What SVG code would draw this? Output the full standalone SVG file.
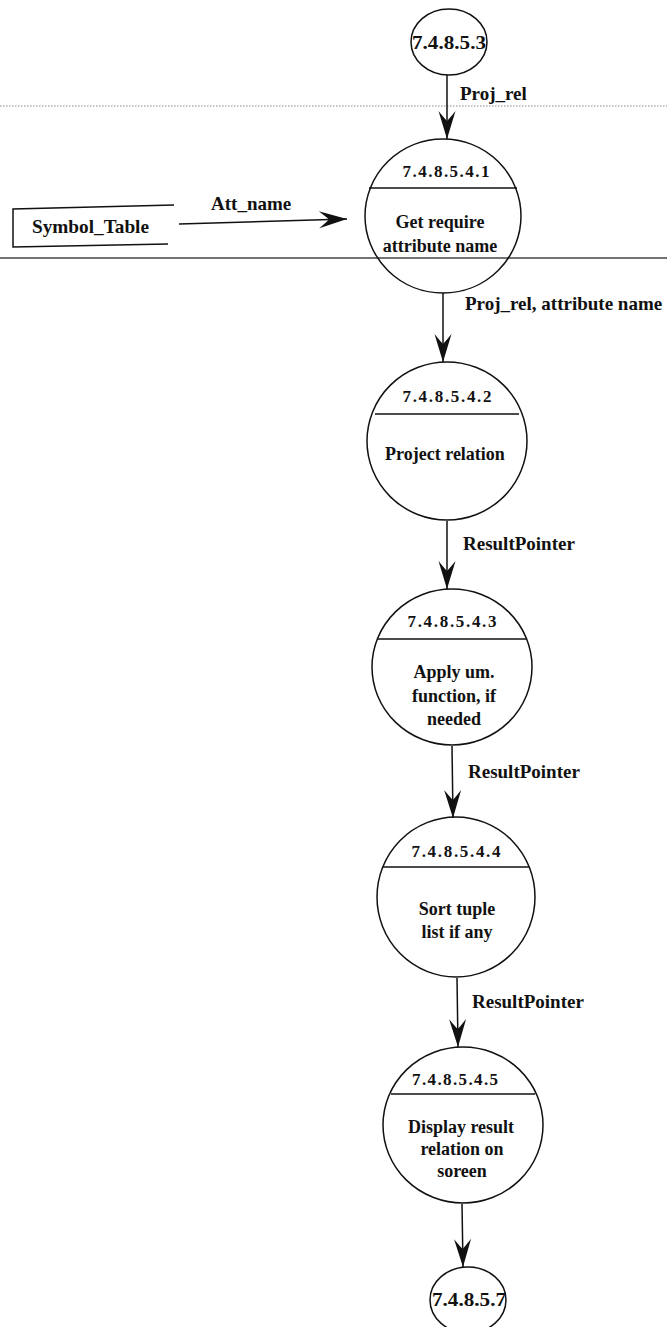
<svg xmlns="http://www.w3.org/2000/svg" width="667" height="1327" viewBox="0 0 667 1327">
  <style>
    .bubble { fill: none; stroke: #111; stroke-width: 1.5; }
    .divider { stroke: #111; stroke-width: 1.5; }
    .flow { fill: none; stroke: #111; stroke-width: 1.5; }
    .title { font-family: "Liberation Serif", "Times New Roman", serif; font-weight: bold; font-size: 17px; fill: #111; text-anchor: middle; }
    .body { font-family: "Liberation Serif", "Times New Roman", serif; font-weight: bold; font-size: 18px; fill: #111; text-anchor: middle; }
    .lbl { font-family: "Liberation Serif", "Times New Roman", serif; font-weight: bold; font-size: 19px; fill: #111; }
    .ref { font-family: "Liberation Serif", "Times New Roman", serif; font-weight: bold; font-size: 19px; fill: #111; text-anchor: middle; }
  </style>
  <defs>
    <marker id="head" markerUnits="userSpaceOnUse" markerWidth="32" markerHeight="20" viewBox="-30 -10 32 20" refX="0" refY="0" orient="auto">
      <path d="M0,0 L-28,-8.5 Q-20,-2 -18,0 Q-20,2 -28,8.5 Z" fill="#111"/>
    </marker>
  </defs>

  <rect width="667" height="1327" fill="#fff"/>

  <!-- page boundaries -->
  <g id="boundaries">
    <line x1="0" y1="106" x2="667" y2="106" stroke="#888" stroke-width="1" stroke-dasharray="1.5 1.5"/>
    <line x1="0" y1="258" x2="667" y2="258" stroke="#444" stroke-width="1.5"/>
  </g>

  <!-- off-page reference in -->
  <g id="ref-7.4.8.5.3">
    <ellipse class="bubble" cx="449" cy="42" rx="38" ry="33"/>
    <text class="ref" x="449" y="49" textLength="74" lengthAdjust="spacingAndGlyphs">7.4.8.5.3</text>
  </g>

  <!-- data store -->
  <g id="symbol-table">
    <path class="bubble" d="M174,205 L13,209 L13,247 L168,244"/>
    <text class="lbl" x="32" y="233" font-size="18" textLength="117" lengthAdjust="spacingAndGlyphs">Symbol_Table</text>
  </g>

  <g id="p-7.4.8.5.4.1">
    <ellipse class="bubble" cx="443" cy="216" rx="78" ry="77"/>
    <line class="divider" x1="369" y1="188" x2="517" y2="188"/>
    <text class="title" x="446" y="177" textLength="87" lengthAdjust="spacing">7.4.8.5.4.1</text>
    <text class="body" x="440" y="228">Get require</text>
    <text class="body" x="440" y="252">attribute name</text>
  </g>

  <g id="p-7.4.8.5.4.2">
    <ellipse class="bubble" cx="447" cy="441" rx="80" ry="79"/>
    <line class="divider" x1="375" y1="414" x2="519" y2="414"/>
    <text class="title" x="447" y="402" textLength="89" lengthAdjust="spacing">7.4.8.5.4.2</text>
    <text class="body" x="445" y="460">Project relation</text>
  </g>

  <g id="p-7.4.8.5.4.3">
    <ellipse class="bubble" cx="452" cy="667" rx="80" ry="78"/>
    <line class="divider" x1="378" y1="639" x2="526" y2="639"/>
    <text class="title" x="452" y="627" textLength="89" lengthAdjust="spacing">7.4.8.5.4.3</text>
    <text class="body" x="454" y="678">Apply um.</text>
    <text class="body" x="454" y="702">function, if</text>
    <text class="body" x="454" y="725">needed</text>
  </g>

  <g id="p-7.4.8.5.4.4">
    <ellipse class="bubble" cx="456" cy="897" rx="79" ry="80"/>
    <line class="divider" x1="383" y1="867" x2="529" y2="867"/>
    <text class="title" x="456" y="857" textLength="89" lengthAdjust="spacing">7.4.8.5.4.4</text>
    <text class="body" x="457" y="915">Sort tuple</text>
    <text class="body" x="457" y="938">list if any</text>
  </g>

  <g id="p-7.4.8.5.4.5">
    <ellipse class="bubble" cx="463" cy="1125" rx="80" ry="78"/>
    <line class="divider" x1="391" y1="1094" x2="535" y2="1094"/>
    <text class="title" x="455" y="1085" textLength="86" lengthAdjust="spacing">7.4.8.5.4.5</text>
    <text class="body" x="461" y="1133">Display result</text>
    <text class="body" x="462" y="1155">relation on</text>
    <text class="body" x="462" y="1177">soreen</text>
  </g>

  <!-- off-page reference out -->
  <g id="ref-7.4.8.5.7">
    <ellipse class="bubble" cx="468" cy="1300" rx="38" ry="33"/>
    <text class="ref" x="469" y="1306" textLength="74" lengthAdjust="spacingAndGlyphs">7.4.8.5.7</text>
  </g>

  <g id="connectors">
    <path class="flow" d="M447,75 L447,139" marker-end="url(#head)"/>
    <text class="lbl" x="460" y="100" font-size="18">Proj_rel</text>

    <path class="flow" d="M179,224 L347,219" marker-end="url(#head)"/>
    <text class="lbl" x="211" y="210">Att_name</text>

    <path class="flow" d="M443,293 L443,362" marker-end="url(#head)"/>
    <text class="lbl" x="465" y="310" font-size="17">Proj_rel, attribute name</text>

    <path class="flow" d="M447,521 L447,589" marker-end="url(#head)"/>
    <text class="lbl" x="463" y="550">ResultPointer</text>

    <path class="flow" d="M452,746 L453,818" marker-end="url(#head)"/>
    <text class="lbl" x="468" y="778">ResultPointer</text>

    <path class="flow" d="M457,978 L458,1047" marker-end="url(#head)"/>
    <text class="lbl" x="472" y="1008">ResultPointer</text>

    <path class="flow" d="M462,1204 L463,1267" marker-end="url(#head)"/>
  </g>
</svg>
